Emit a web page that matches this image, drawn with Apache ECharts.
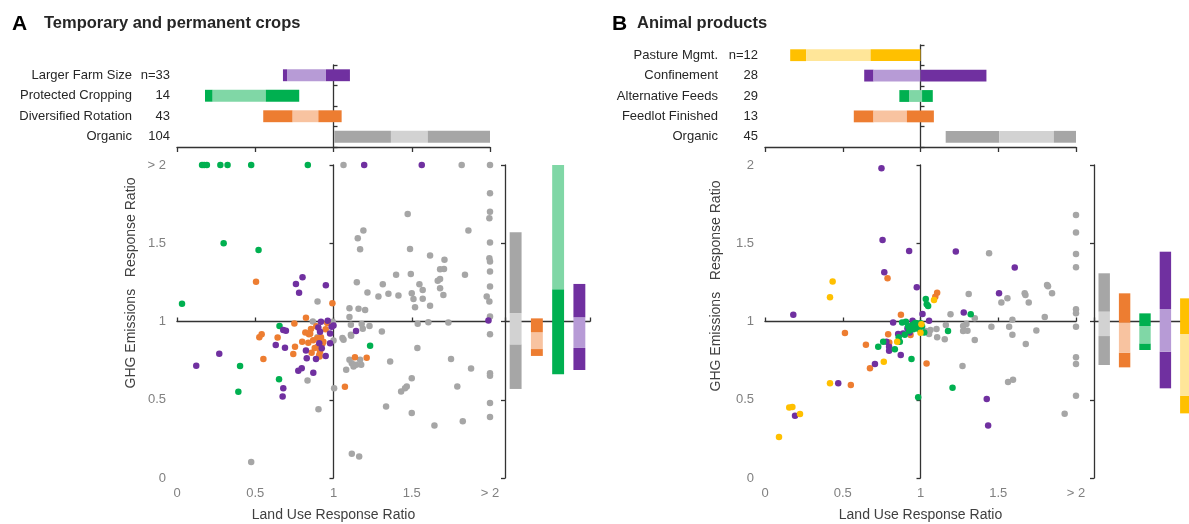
<!DOCTYPE html>
<html><head><meta charset="utf-8">
<script src="https://cdn.jsdelivr.net/npm/echarts@6/dist/echarts.min.js"></script>
<style>html,body{margin:0;padding:0;background:#fff}#c{width:1189px;height:524px}</style>
</head><body><div id="c"></div>
<script>
// ---------------- DATA ----------------
const xTickLabels = ['0', '0.5', '1', '1.5', '> 2'];
const yTickLabelsA = ['0', '0.5', '1', '1.5', '> 2'];
const yTickLabelsB = ['0', '0.5', '1', '1.5', '2'];

// Panel A summary (bottom-to-top order)
const catsA = ['Organic', 'Diversified Rotation', 'Protected Cropping', 'Larger Farm Size'];
const nA = ['104', '43', '14', 'n=33'];
const colorKeysA = ['gray', 'orange', 'green', 'purple'];
// [low, inner low, inner high, high]
const landA = [[1.005, 1.367, 1.602, 2.0], [0.551, 0.739, 0.903, 1.052], [0.179, 0.228, 0.567, 0.781], [0.677, 0.703, 0.952, 1.105]];
const ghgA = [[0.569, 0.854, 1.052, 1.570], [0.780, 0.824, 0.931, 1.020], [0.663, 1.206, 2.0, 2.0], [0.690, 0.831, 1.027, 1.240]];

// Panel B summary (bottom-to-top order)
const catsB = ['Organic', 'Feedlot Finished', 'Alternative Feeds', 'Confinement', 'Pasture Mgmt.'];
const nB = ['45', '13', '29', '28', 'n=12'];
const colorKeysB = ['gray', 'orange', 'green', 'purple', 'yellow'];
const landB = [[1.162, 1.507, 1.857, 2.0], [0.571, 0.698, 0.912, 1.086], [0.864, 0.926, 1.010, 1.079], [0.638, 0.698, 1.0, 1.424], [0.162, 0.264, 0.679, 1.0]];
const ghgB = [[0.722, 0.907, 1.063, 1.308], [0.707, 0.801, 0.992, 1.180], [0.818, 0.860, 0.971, 1.052], [0.573, 0.807, 1.080, 1.446], [0.413, 0.526, 0.920, 1.148]];

// Panel A scatter points [land use RR, GHG RR]
const grayA = [[2,2],[2,1.819],[2,1.702],[1.996,1.66],[2,1.504],[1.996,1.404],[2,1.383],[2,1.319],[2,1.223],[1.979,1.16],[1.996,1.128],[2,1.032],[2,0.919],[2,0.67],[2,0.653],[2,0.479],[2,0.389],
[1.064,2],[1.819,2],[1.474,1.687],[1.862,1.581],[1.191,1.581],[1.155,1.532],[1.170,1.462],[1.489,1.464],[1.617,1.421],[1.709,1.394],[1.681,1.334],[1.706,1.336],[1.4,1.298],[1.494,1.304],[1.840,1.298],[1.666,1.260],[1.681,1.272],[1.149,1.251],[1.315,1.238],[1.549,1.238],[1.570,1.202],[1.681,1.213],[1.217,1.185],[1.351,1.177],[1.415,1.166],[1.5,1.181],[1.702,1.170],[1.287,1.160],[1.511,1.143],[1.570,1.145],[0.898,1.128],[1.617,1.1],[1.521,1.091],[1.102,1.085],[1.160,1.081],[1.202,1.074],[1.102,1.028],[0.868,1.0],[0.995,0.999],[1.111,0.979],[1.23,0.972],[1.187,0.953],[1.18,0.984],[1.538,0.985],[1.606,0.996],[1.734,0.994],[1.309,0.936],[1.111,0.915],[1.057,0.894],[0.897,0.899],
[1.536,0.830],[1.064,0.883],[1.113,0.909],[1.0,0.879],[1.362,0.745],[1.081,0.691],[1.102,0.755],[1.117,0.734],[1.128,0.713],[1.145,0.723],[1.170,0.755],[1.177,0.723],[1.751,0.760],[1.879,0.700],[0.834,0.623],[1.5,0.638],[1.468,0.585],[1.457,0.574],[1.432,0.553],[1.004,0.574],[1.791,0.585],[0.904,0.440],[1.336,0.457],[1.5,0.415],[1.826,0.362],[1.645,0.336],[1.117,0.155],[1.164,0.138],[0.474,0.102]];
const orangeA = [[0.505,1.254],[0.993,1.116],[0.824,1.024],[0.750,0.988],[0.856,0.952],[0.843,0.918],[0.541,0.918],[0.526,0.899],[0.643,0.897],[0.839,0.865],[0.754,0.839],[0.743,0.792],[0.897,0.893],[0.935,0.871],[0.914,0.807],[0.909,0.786],[0.552,0.760],[1.137,0.771],[1.212,0.769],[1.073,0.583],[0.851,0.921],[0.911,0.777],[0.93,0.86],[0.88,0.83],[0.96,0.99],[0.87,0.88],[0.92,0.90],[0.80,0.87],[0.95,0.95],[0.86,0.80],[0.90,0.84],[0.82,0.93],[0.89,0.97]];
const greenA = [[0.16,2],[0.174,2],[0.191,2],[0.277,2],[0.323,2],[0.474,2],[0.836,2],[0.032,1.113],[0.298,1.5],[0.521,1.457],[0.655,0.972],[0.403,0.716],[0.392,0.551],[0.652,0.631],[1.234,0.845]];
const purpleA = [[1.196,2],[1.564,2],[0.760,1.240],[0.802,1.283],[0.780,1.184],[0.951,1.232],[0.920,0.999],[0.963,1.005],[0.903,0.961],[0.914,0.935],[0.988,0.967],[1.0,0.975],[0.978,0.924],[0.679,0.946],[0.696,0.941],[0.631,0.850],[0.690,0.833],[0.824,0.814],[0.829,0.765],[0.888,0.760],[0.909,0.861],[0.925,0.829],[0.950,0.780],[0.978,0.861],[0.775,0.686],[0.797,0.701],[0.871,0.673],[0.679,0.573],[0.675,0.520],[1.144,0.939],[1.99,1.006],[0.27,0.794],[0.123,0.717]];

// Panel B scatter points
const grayB = [[2,1.681],[2,1.568],[2,1.432],[2,1.347],[2,1.079],[2,1.053],[2,0.966],[2,0.772],[2,0.728],[2,0.526],
[1.441,1.436],[1.814,1.234],[1.82,1.225],[1.846,1.181],[1.670,1.181],[1.675,1.17],[1.696,1.121],[1.559,1.149],[1.520,1.121],[1.31,1.176],[1.193,1.046],[1.799,1.028],[1.591,1.011],[1.349,1.021],[1.295,0.984],[1.274,0.972],[1.163,0.978],[1.103,0.952],[1.064,0.946],[1.055,0.920],[1.107,0.899],[1.156,0.886],[1.274,0.939],[1.302,0.941],[1.349,0.882],[1.456,0.966],[1.570,0.966],[1.591,0.915],[1.745,0.943],[1.677,0.857],[1.27,0.716],[1.563,0.613],[1.595,0.628],[1.927,0.411],[1.035,0.94]];
const orangeB = [[0.788,1.277],[1.107,1.183],[1.095,1.158],[0.874,1.043],[0.514,0.927],[0.792,0.918],[0.936,0.914],[0.649,0.851],[0.799,0.866],[0.675,0.702],[0.552,0.595],[1.039,0.731],[0.96,0.96]];
const purpleB = [[0.749,1.979],[0.756,1.521],[0.927,1.451],[0.767,1.315],[0.976,1.219],[1.227,1.447],[1.606,1.345],[1.505,1.181],[1.278,1.057],[0.182,1.043],[1.013,1.048],[0.824,0.994],[0.949,1.005],[1.055,1.005],[0.916,0.956],[0.921,0.968],[0.856,0.920],[0.888,0.924],[0.781,0.871],[0.798,0.839],[0.798,0.813],[0.873,0.786],[0.707,0.728],[0.471,0.606],[0.193,0.398],[1.426,0.505],[1.435,0.336],[0.93,0.93]];
const greenB = [[1.034,1.144],[1.049,1.099],[1.323,1.046],[0.882,0.993],[0.906,0.998],[0.989,0.978],[0.963,0.957],[0.927,0.941],[1.177,0.939],[0.760,0.871],[0.728,0.839],[0.835,0.822],[0.867,0.871],[0.942,0.760],[1.206,0.577],[0.985,0.516],[0.964,0.989],[1.0,0.989],[0.931,0.968],[0.953,0.951],[1.024,0.930],[0.899,0.915],[1.04,1.11],[0.97,0.99],[1.01,0.97],[0.95,0.98],[0.99,0.95],[0.92,0.97],[0.86,0.9]];
const yellowB = [[0.435,1.255],[0.418,1.155],[1.087,1.137],[1.006,0.983],[1.0,0.928],[0.850,0.871],[0.764,0.743],[0.418,0.606],[0.156,0.451],[0.176,0.453],[0.225,0.409],[0.09,0.262]];

// ---------------- STYLE ----------------
const PAL = {
  gray:   {dark: '#A6A6A6', light: '#D2D2D2'},
  orange: {dark: '#ED7D31', light: '#F8C3A0'},
  green:  {dark: '#00B050', light: '#80D7A6'},
  purple: {dark: '#7030A0', light: '#B79BD6'},
  yellow: {dark: '#FFC000', light: '#FFE699'}
};
const FONT = "'Liberation Sans', Arial, sans-serif";
const LINE = {color: '#333333', width: 1.3};
const TICKCOL = '#808080';

function rangeData(ranges) { return ranges.map((r, i) => [i, r[0], r[1], r[2], r[3]]); }

function makeRender(horizontal, keys) {
  return function (params, api) {
    const c = api.value(0);
    const v = [api.value(1), api.value(2), api.value(3), api.value(4)];
    const col = PAL[keys[c]];
    const segs = [[v[0], v[1], col.dark], [v[1], v[2], col.light], [v[2], v[3], col.dark]];
    const children = [];
    if (horizontal) {
      const h = api.size([0, 1])[1] * 0.58;
      segs.forEach(s => {
        const p0 = api.coord([s[0], c]), p1 = api.coord([s[1], c]);
        children.push({type: 'rect', shape: {x: p0[0], y: p0[1] - h / 2, width: p1[0] - p0[0], height: h}, style: {fill: s[2]}});
      });
    } else {
      const w = api.size([1, 0])[0] * 0.56;
      segs.forEach(s => {
        const p0 = api.coord([c, s[0]]), p1 = api.coord([c, s[1]]);
        children.push({type: 'rect', shape: {x: p0[0] - w / 2, y: p1[1], width: w, height: p0[1] - p1[1]}, style: {fill: s[2]}});
      });
    }
    return {type: 'group', children};
  };
}

function catLabelAxis(grid, cats, ns, nWidth) {
  return {
    gridIndex: grid, type: 'category', data: cats, position: 'left',
    axisLine: {show: false}, axisTick: {show: false}, splitLine: {show: false},
    axisLabel: {
      margin: 7,
      formatter: (val, idx) => '{a|' + val + '}{b|' + ns[idx] + '}',
      rich: {
        a: {fontFamily: FONT, fontSize: 13, color: '#262626', align: 'right'},
        b: {fontFamily: FONT, fontSize: 13, color: '#262626', align: 'right', width: nWidth}
      }
    }
  };
}
function catLineAxis(grid, cats, off) {
  return {
    gridIndex: grid, type: 'category', data: cats, position: 'left', offset: off,
    axisLine: {show: true, lineStyle: LINE}, axisTick: {show: true, inside: true, length: 4, lineStyle: LINE},
    axisLabel: {show: false}, splitLine: {show: false}
  };
}
function valAxisTopBars(grid) {
  return {
    gridIndex: grid, type: 'value', min: 0, max: 2, interval: 0.5, position: 'bottom',
    axisLine: {show: true, lineStyle: LINE}, axisTick: {show: true, length: 5, lineStyle: LINE},
    axisLabel: {show: false}, splitLine: {show: false}
  };
}
function scatterXLabels(grid) {
  return {
    gridIndex: grid, type: 'value', min: 0, max: 2, interval: 0.5, position: 'bottom',
    axisLine: {show: false}, axisTick: {show: false}, splitLine: {show: false},
    axisLabel: {margin: 9, fontFamily: FONT, fontSize: 13, color: TICKCOL, formatter: v => xTickLabels[Math.round(v * 2)]},
    name: 'Land Use Response Ratio', nameLocation: 'middle', nameGap: 30,
    nameTextStyle: {fontFamily: FONT, fontSize: 14, color: '#404040'}
  };
}
function scatterHLine(grid, off) {
  return {
    gridIndex: grid, type: 'value', min: 0, max: 2, interval: 0.5, position: 'top', offset: off,
    axisLine: {show: true, lineStyle: LINE}, axisTick: {show: true, length: 4, lineStyle: LINE},
    axisLabel: {show: false}, splitLine: {show: false}
  };
}
function scatterYLabels(grid, labels) {
  return {
    gridIndex: grid, type: 'value', min: 0, max: 2, interval: 0.5, position: 'left',
    axisLine: {show: false}, axisTick: {show: false}, splitLine: {show: false},
    axisLabel: {margin: 11, fontFamily: FONT, fontSize: 13, color: TICKCOL, formatter: v => labels[Math.round(v * 2)]}
  };
}
function scatterVLine(grid, off) {
  return {
    gridIndex: grid, type: 'value', min: 0, max: 2, interval: 0.5, position: 'left', offset: off,
    axisLine: {show: true, lineStyle: LINE}, axisTick: {show: true, length: 4, lineStyle: LINE},
    axisLabel: {show: false}, splitLine: {show: false}
  };
}
function rightCatAxis(grid, cats, off) {
  return {
    gridIndex: grid, type: 'category', data: cats, position: 'top', offset: off,
    axisLine: {show: true, lineStyle: LINE}, axisTick: {show: true, length: 4, lineStyle: LINE},
    axisLabel: {show: false}, splitLine: {show: false}
  };
}
function rightValAxis(grid) {
  return {
    gridIndex: grid, type: 'value', min: 0, max: 2, interval: 0.5, position: 'left',
    axisLine: {show: true, lineStyle: LINE}, axisTick: {show: true, length: 4, lineStyle: LINE},
    axisLabel: {show: false}, splitLine: {show: false}
  };
}
function scatter(data, key, xi, yi) {
  return {
    type: 'scatter', xAxisIndex: xi, yAxisIndex: yi, data: data, symbol: 'circle', symbolSize: 6.5,
    itemStyle: {color: PAL[key].dark, opacity: 1}, silent: true, z: 3
  };
}

const g = (l, t, w, h) => ({left: l, top: t, width: w, height: h, outerBoundsMode: 'none', containLabel: false});

const option = {
  animation: false,
  backgroundColor: '#ffffff',
  grid: [
    g(177, 65, 313, 82),    // 0 A top
    g(177, 165, 313, 313),  // 1 A scatter
    g(505, 165, 85, 313),   // 2 A right
    g(765, 45, 311, 102),   // 3 B top
    g(765, 165, 311, 313),  // 4 B scatter
    g(1094, 165, 102, 313)  // 5 B right
  ],
  xAxis: [
    valAxisTopBars(0),              // 0
    scatterXLabels(1),              // 1
    scatterHLine(1, -156.5),        // 2
    rightCatAxis(2, catsA, -156.5), // 3
    valAxisTopBars(3),              // 4
    scatterXLabels(4),              // 5
    scatterHLine(4, -156.5),        // 6
    rightCatAxis(5, catsB, -156.5)  // 7
  ],
  yAxis: [
    catLabelAxis(0, catsA, nA, 38),   // 0
    catLineAxis(0, catsA, -156.5),    // 1
    scatterYLabels(1, yTickLabelsA),  // 2
    scatterVLine(1, -156.5),          // 3
    rightValAxis(2),                  // 4
    catLabelAxis(3, catsB, nB, 40),   // 5
    catLineAxis(3, catsB, -155.5),    // 6
    scatterYLabels(4, yTickLabelsB),  // 7
    scatterVLine(4, -155.5),          // 8
    rightValAxis(5)                   // 9
  ],
  series: [
    {type: 'custom', xAxisIndex: 0, yAxisIndex: 0, renderItem: makeRender(true, colorKeysA), data: rangeData(landA), encode: {x: [1, 2, 3, 4], y: 0}, silent: true},
    scatter(grayA, 'gray', 1, 2),
    scatter(orangeA, 'orange', 1, 2),
    scatter(greenA, 'green', 1, 2),
    scatter(purpleA, 'purple', 1, 2),
    {type: 'custom', xAxisIndex: 3, yAxisIndex: 4, renderItem: makeRender(false, colorKeysA), data: rangeData(ghgA), encode: {x: 0, y: [1, 2, 3, 4]}, silent: true},
    {type: 'custom', xAxisIndex: 4, yAxisIndex: 5, renderItem: makeRender(true, colorKeysB), data: rangeData(landB), encode: {x: [1, 2, 3, 4], y: 0}, silent: true},
    scatter(grayB, 'gray', 5, 7),
    scatter(orangeB, 'orange', 5, 7),
    scatter(purpleB, 'purple', 5, 7),
    scatter(greenB, 'green', 5, 7),
    scatter(yellowB, 'yellow', 5, 7),
    {type: 'custom', xAxisIndex: 7, yAxisIndex: 9, renderItem: makeRender(false, colorKeysB), data: rangeData(ghgB), encode: {x: 0, y: [1, 2, 3, 4]}, silent: true}
  ],
  graphic: [
    {type: 'text', x: 12, y: 24, style: {text: 'A', font: 'bold 21px ' + FONT, fill: '#000', verticalAlign: 'middle'}},
    {type: 'text', x: 44, y: 23, style: {text: 'Temporary and permanent crops', font: 'bold 16.5px ' + FONT, fill: '#262626', verticalAlign: 'middle'}},
    {type: 'text', x: 612, y: 24, style: {text: 'B', font: 'bold 21px ' + FONT, fill: '#000', verticalAlign: 'middle'}},
    {type: 'text', x: 637, y: 23, style: {text: 'Animal products', font: 'bold 16.5px ' + FONT, fill: '#262626', verticalAlign: 'middle'}},
    {type: 'text', x: 131, y: 283, rotation: Math.PI / 2, style: {text: 'GHG Emissions   Response Ratio', font: '14px ' + FONT, fill: '#404040', align: 'center', verticalAlign: 'middle'}},
    {type: 'text', x: 716, y: 286, rotation: Math.PI / 2, style: {text: 'GHG Emissions   Response Ratio', font: '14px ' + FONT, fill: '#404040', align: 'center', verticalAlign: 'middle'}}
  ]
};

const chart = echarts.init(document.getElementById('c'));
chart.setOption(option);
</script>
</body></html>
